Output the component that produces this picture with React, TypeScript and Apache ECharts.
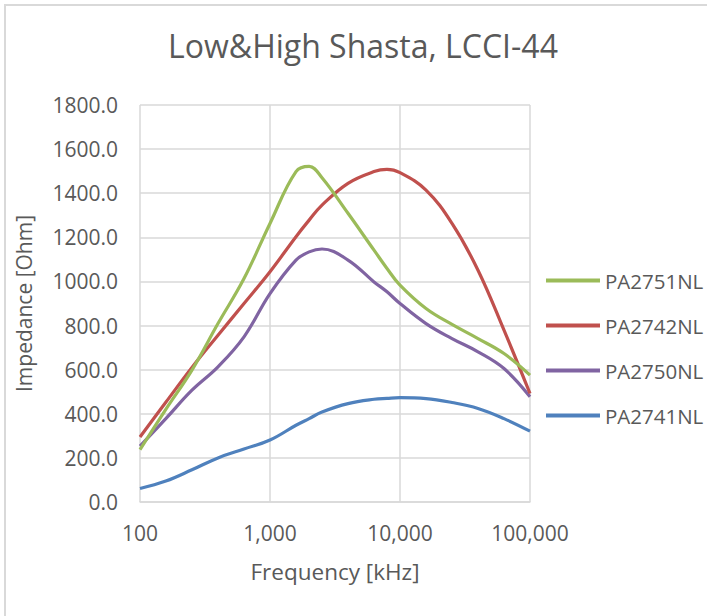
import React, { useEffect, useRef } from "react";
import * as echarts from "echarts";

const freq = [100, 158, 251, 398, 631, 1000, 1585, 2000, 2512, 3981, 6310, 7943, 10000, 15849, 25119, 39811, 63096, 100000];
const pa2751 = [237, 420, 598, 809, 1013, 1263, 1498, 1522, 1470, 1309, 1142, 1059, 983, 877, 805, 741, 673, 575];
const pa2742 = [295, 452, 610, 756, 900, 1044, 1203, 1278, 1346, 1445, 1498, 1508, 1493, 1414, 1263, 1051, 779, 492];
const pa2750 = [253, 378, 507, 613, 749, 945, 1097, 1134, 1147, 1097, 998, 953, 900, 809, 741, 681, 605, 477];
const pa2741 = [61, 95, 146, 200, 240, 281, 348, 378, 408, 446, 466, 470, 473, 469, 451, 424, 378, 321];

const seriesNames = ["PA2751NL", "PA2742NL", "PA2750NL", "PA2741NL"];
const seriesValues = [pa2751, pa2742, pa2750, pa2741];
const colors = ["#9BBB59", "#C0504D", "#8064A2", "#4F81BD"];

const FONT = "Open Sans";
const TXT = "#595959";

export default function App() {
  const ref = useRef<HTMLDivElement>(null);
  useEffect(() => {
    if (!ref.current) return;
    const chart = echarts.init(ref.current, undefined, { renderer: "svg" });
    chart.setOption({
      animation: false,
      backgroundColor: "#ffffff",
      title: {
        text: "Low&High Shasta, LCCI-44",
        left: 358,
        top: 24,
        textAlign: "center",
        textStyle: { fontFamily: FONT, fontSize: 32, fontWeight: "normal", color: TXT },
      },
      graphic: [
        {
          type: "polyline",
          shape: { points: [[5, 616], [5, 5], [707, 5]] },
          style: { stroke: "#d9d9d9", lineWidth: 2, fill: "none" },
        },
      ],
      grid: { left: 140, top: 105, width: 390, height: 397 },
      legend: {
        orient: "vertical",
        left: 546,
        top: 270,
        padding: 0,
        itemWidth: 54,
        itemHeight: 4,
        itemGap: 24,
        icon: "rect",
        data: seriesNames,
        textStyle: { fontFamily: FONT, fontSize: 20.5, color: TXT },
      },
      xAxis: {
        type: "log",
        logBase: 10,
        min: 100,
        max: 100000,
        name: "Frequency [kHz]",
        nameLocation: "middle",
        nameGap: 58,
        nameTextStyle: { fontFamily: FONT, fontSize: 22.5, color: TXT },
        axisLine: { show: true, lineStyle: { color: "#d9d9d9", width: 1.5 } },
        axisTick: { show: false },
        axisLabel: {
          fontFamily: FONT,
          fontSize: 21,
          color: TXT,
          margin: 20,
          formatter: (v: number) => Math.round(v).toLocaleString("en-US"),
        },
        splitLine: { show: true, lineStyle: { color: "#d9d9d9", width: 1.5 } },
      },
      yAxis: {
        type: "value",
        min: 0,
        max: 1800,
        interval: 200,
        name: "Impedance [Ohm]",
        nameLocation: "middle",
        nameGap: 106,
        nameTextStyle: { fontFamily: FONT, fontSize: 21, color: TXT },
        axisLine: { show: false },
        axisTick: { show: false },
        axisLabel: {
          fontFamily: FONT,
          fontSize: 21,
          color: TXT,
          margin: 22,
          formatter: (v: number) => v.toFixed(1),
        },
        splitLine: { show: true, lineStyle: { color: "#d9d9d9", width: 1.5 } },
      },
      series: seriesNames.map((n, i) => ({
        name: n,
        type: "line",
        smooth: 0.4,
        showSymbol: false,
        symbol: "none",
        color: colors[i],
        lineStyle: { width: 3.2, color: colors[i] },
        data: freq.map((f, j) => [f, seriesValues[i][j]]),
        z: 10 - i,
      })),
    });
    return () => chart.dispose();
  }, []);
  return (
    <div
      ref={ref}
      style={{ position: "absolute", left: 0, top: 0, width: 707, height: 616 }}
    />
  );
}
